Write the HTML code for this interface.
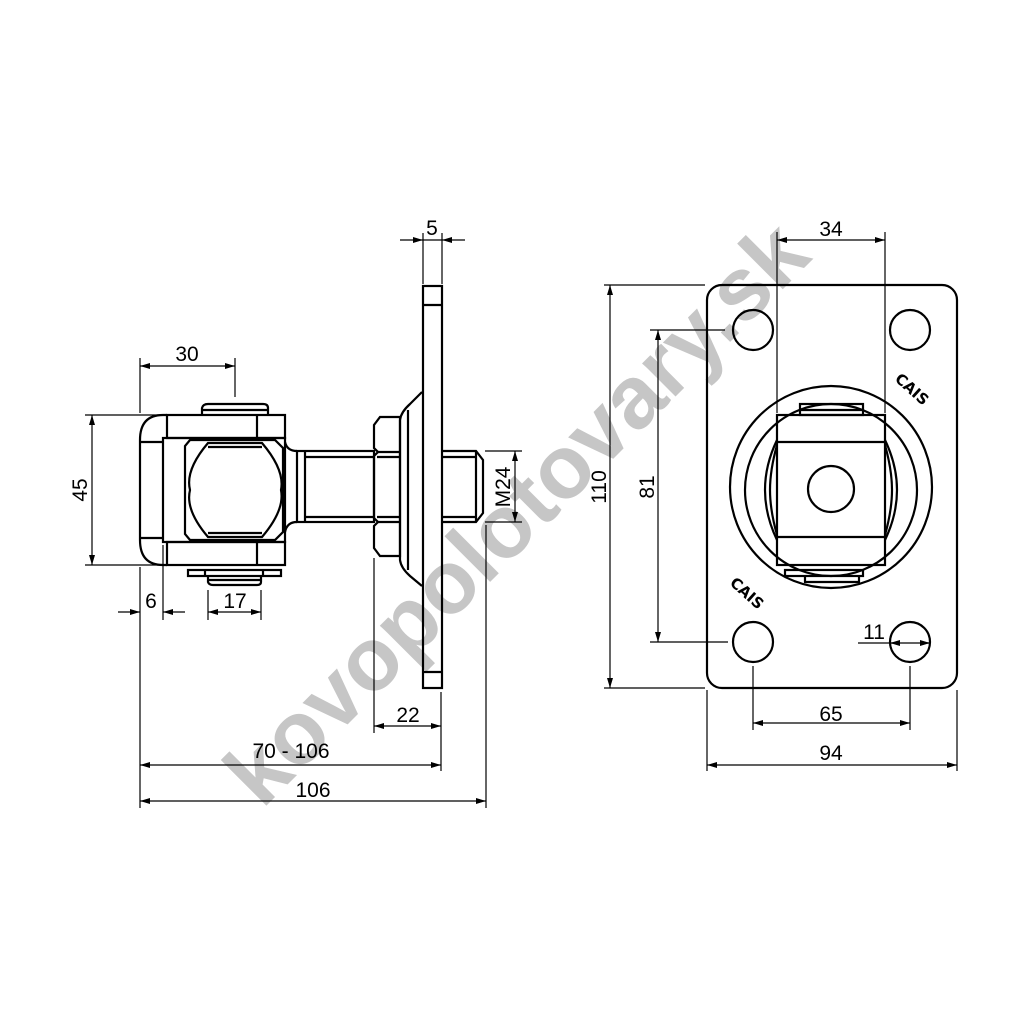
<!DOCTYPE html>
<html><head><style>html,body{margin:0;padding:0;background:#fff}svg{display:block}</style></head><body>
<svg width="1024" height="1024" viewBox="0 0 1024 1024" xmlns="http://www.w3.org/2000/svg" font-family="Liberation Sans, sans-serif">
<defs>
<marker id="a" viewBox="0 0 10 6" refX="10" refY="3" markerWidth="10" markerHeight="6" orient="auto-start-reverse" markerUnits="userSpaceOnUse"><path d="M0,0L10,3L0,6z" fill="#000"/></marker>
</defs>
<text x="0" y="0" transform="translate(262,810) rotate(-45)" font-size="89" font-weight="bold" fill="#c6c6c6">kovopolotovary.sk</text>

<g fill="none" stroke="#000" stroke-width="2.2">
<rect x="423" y="286" width="19" height="402"/>
<line x1="423" y1="305" x2="442" y2="305"/>
<line x1="423" y1="672" x2="442" y2="672"/>
<path d="M422,392 L410,404 Q401,412 400,420 L400,560 Q401,568 410,576 L422,586"/>
<line x1="408" y1="410" x2="408" y2="570"/>
<path d="M380,417 L400,417 L400,556 L380,556 L374,548 L374,526 L378,522 L374,518 L374,456 L378,452 L374,448 L374,425 Z"/>
<line x1="377" y1="452" x2="400" y2="452"/><line x1="377" y1="522" x2="400" y2="522"/>
<line x1="377" y1="457" x2="400" y2="457"/><line x1="377" y1="517" x2="400" y2="517"/>
<rect x="297" y="451" width="77" height="71"/>
<line x1="305" y1="457" x2="374" y2="457"/><line x1="305" y1="517" x2="374" y2="517"/>
<line x1="305" y1="451" x2="305" y2="522"/>
<path d="M285,442 Q287,451 297,451 M285,532 Q287,522 297,522"/>
<path d="M442,451 L476,451 L483,460 L483,513 L476,522 L442,522"/>
<line x1="442" y1="457" x2="476" y2="457"/><line x1="442" y1="517" x2="476" y2="517"/>
<line x1="476" y1="451" x2="476" y2="522"/>
<rect x="163" y="438" width="122" height="104"/>
<rect x="167" y="415" width="118" height="23"/>
<rect x="167" y="542" width="118" height="23"/>
<line x1="257" y1="415" x2="257" y2="438"/><line x1="257" y1="542" x2="257" y2="565"/>
<path d="M167,415 L163,415 Q140,415 140,440 L140,540 Q140,565 163,565 L167,565"/>
<line x1="140" y1="442" x2="163" y2="442"/><line x1="140" y1="538" x2="163" y2="538"/>
<path d="M190,440 L275,440 L283,448 L283,532 L275,540 L190,540 L185,534 L185,446 Z"/>
<path d="M208,443 Q185,470 190,490 Q185,510 208,537 L262,537 Q285,510 281,490 Q285,470 262,443 Z"/>
<line x1="208" y1="447" x2="262" y2="447"/><line x1="208" y1="533" x2="262" y2="533"/>
<path d="M202,415 L202,408 Q203,404 208,404 L263,404 Q268,404 268,408 L268,415"/>
<line x1="202" y1="410" x2="268" y2="410"/>
<rect x="188" y="570" width="93" height="6"/>
<line x1="205" y1="570" x2="205" y2="576"/><line x1="263" y1="570" x2="263" y2="576"/>
<path d="M208,576 L208,582 Q209,585 213,585 L257,585 Q261,585 261,582 L261,576"/>
<line x1="208" y1="580" x2="261" y2="580"/>

<rect x="707" y="285" width="250" height="403" rx="15"/>
<circle cx="753" cy="330" r="20"/><circle cx="910" cy="330" r="20"/>
<circle cx="753" cy="642" r="20"/><circle cx="910" cy="642" r="20"/>
<circle cx="831" cy="487" r="101"/>
<circle cx="831" cy="490" r="86"/>
<path d="M777,440 Q765,465 765,490 Q765,515 777,540 M885,440 Q897,465 897,490 Q897,515 885,540"/>
<path d="M777,445 Q770,470 770,490 Q770,510 777,535 M885,445 Q892,470 892,490 Q892,510 885,535"/>
<rect x="800" y="404" width="63" height="11"/>
<line x1="800" y1="410" x2="863" y2="410"/>
<rect x="777" y="415" width="108" height="150"/>
<line x1="777" y1="442" x2="885" y2="442"/><line x1="777" y1="537" x2="885" y2="537"/>
<circle cx="831" cy="489" r="23"/>
<rect x="785" y="570" width="78" height="6"/>
<path d="M805,576 L805,582 L859,582 L859,576"/>
</g>

<g font-size="15" font-weight="bold" font-family="DejaVu Sans, sans-serif">
<text transform="translate(894,380) rotate(42)">CAIS</text>
<text transform="translate(729,584) rotate(42)">CAIS</text>
</g>

<g fill="none" stroke="#000" stroke-width="1.2">
<line x1="423" y1="233" x2="423" y2="284"/><line x1="442" y1="233" x2="442" y2="284"/>
<line x1="400" y1="240" x2="423" y2="240" marker-end="url(#a)"/>
<line x1="465" y1="240" x2="442" y2="240" marker-end="url(#a)"/>
<line x1="423" y1="240" x2="442" y2="240"/>
<line x1="140" y1="358" x2="140" y2="413"/><line x1="235" y1="358" x2="235" y2="397"/>
<line x1="140" y1="366" x2="235" y2="366" marker-start="url(#a)" marker-end="url(#a)"/>
<line x1="85" y1="415" x2="160" y2="415"/><line x1="85" y1="565" x2="160" y2="565"/>
<line x1="92" y1="415" x2="92" y2="565" marker-start="url(#a)" marker-end="url(#a)"/>
<line x1="140" y1="567" x2="140" y2="808"/><line x1="163" y1="545" x2="163" y2="620"/>
<line x1="118" y1="612" x2="140" y2="612" marker-end="url(#a)"/>
<line x1="185" y1="612" x2="163" y2="612" marker-end="url(#a)"/>
<line x1="208" y1="590" x2="208" y2="620"/><line x1="261" y1="590" x2="261" y2="620"/>
<line x1="208" y1="612" x2="261" y2="612" marker-start="url(#a)" marker-end="url(#a)"/>
<line x1="374" y1="558" x2="374" y2="733"/><line x1="441" y1="692" x2="441" y2="771"/>
<line x1="486" y1="525" x2="486" y2="808"/>
<line x1="374" y1="726" x2="441" y2="726" marker-start="url(#a)" marker-end="url(#a)"/>
<line x1="140" y1="765" x2="441" y2="765" marker-start="url(#a)" marker-end="url(#a)"/>
<line x1="140" y1="801" x2="486" y2="801" marker-start="url(#a)" marker-end="url(#a)"/>
<line x1="485" y1="451" x2="522" y2="451"/><line x1="485" y1="522" x2="522" y2="522"/>
<line x1="515" y1="451" x2="515" y2="522" marker-start="url(#a)" marker-end="url(#a)"/>
<line x1="777" y1="232" x2="777" y2="413"/><line x1="885" y1="232" x2="885" y2="413"/>
<line x1="777" y1="240" x2="885" y2="240" marker-start="url(#a)" marker-end="url(#a)"/>
<line x1="604" y1="285" x2="705" y2="285"/><line x1="604" y1="688" x2="705" y2="688"/>
<line x1="610" y1="285" x2="610" y2="688" marker-start="url(#a)" marker-end="url(#a)"/>
<line x1="650" y1="330" x2="725" y2="330"/><line x1="650" y1="642" x2="728" y2="642"/>
<line x1="658" y1="330" x2="658" y2="642" marker-start="url(#a)" marker-end="url(#a)"/>
<line x1="753" y1="666" x2="753" y2="730"/><line x1="910" y1="666" x2="910" y2="730"/>
<line x1="707" y1="690" x2="707" y2="771"/><line x1="957" y1="690" x2="957" y2="771"/>
<line x1="753" y1="723" x2="910" y2="723" marker-start="url(#a)" marker-end="url(#a)"/>
<line x1="707" y1="765" x2="957" y2="765" marker-start="url(#a)" marker-end="url(#a)"/>
<line x1="858" y1="643" x2="890" y2="643"/>
<line x1="900" y1="643" x2="890" y2="643" marker-end="url(#a)"/>
<line x1="920" y1="643" x2="930" y2="643" marker-end="url(#a)"/>
<line x1="890" y1="643" x2="930" y2="643"/>
</g>

<g font-size="21" fill="#000">
<text x="432" y="235" text-anchor="middle">5</text>
<text x="187" y="361" text-anchor="middle">30</text>
<text transform="translate(87,490) rotate(-90)" text-anchor="middle">45</text>
<text x="151" y="608" text-anchor="middle">6</text>
<text x="235" y="608" text-anchor="middle">17</text>
<text x="408" y="722" text-anchor="middle">22</text>
<text x="291" y="758" text-anchor="middle">70 - 106</text>
<text x="313" y="797" text-anchor="middle">106</text>
<text transform="translate(510,487) rotate(-90)" text-anchor="middle">M24</text>
<text x="831" y="236" text-anchor="middle">34</text>
<text transform="translate(606,487) rotate(-90)" text-anchor="middle">110</text>
<text transform="translate(654,487) rotate(-90)" text-anchor="middle">81</text>
<text x="831" y="721" text-anchor="middle">65</text>
<text x="831" y="760" text-anchor="middle">94</text>
<text x="874" y="639" text-anchor="middle">11</text>
</g>
</svg>
</body></html>
